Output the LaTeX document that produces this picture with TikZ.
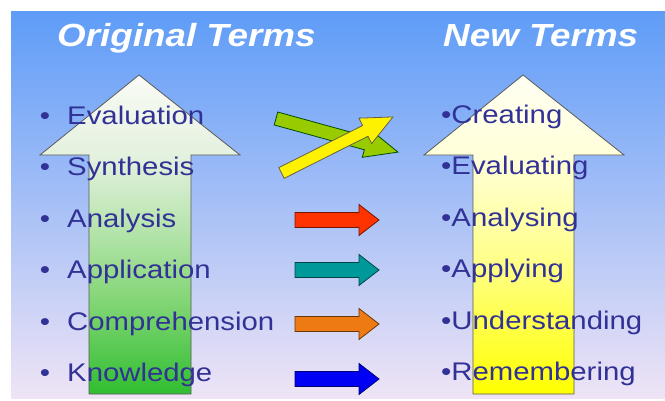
\documentclass[tikz,border=0pt]{standalone}
\usepackage{fontspec}
\setmainfont{Liberation Sans}
\definecolor{txt}{HTML}{313196}
\definecolor{bgtop}{HTML}{5E9CF7}
\definecolor{bgmid}{HTML}{A2C4F1}
\definecolor{bgbot}{HTML}{EFE4F6}
\definecolor{lime}{HTML}{99CC00}
\definecolor{redar}{HTML}{FF3300}
\definecolor{tealar}{HTML}{009999}
\definecolor{orangear}{HTML}{EE7A14}
\definecolor{bluear}{HTML}{0000F5}
\pgfdeclareverticalshading{greenarrow}{100bp}{rgb(0bp)=(0.19,0.745,0.19); rgb(25bp)=(0.19,0.745,0.19); rgb(40bp)=(0.52,0.84,0.47); rgb(50bp)=(0.70,0.89,0.66); rgb(62bp)=(0.89,0.945,0.87); rgb(75bp)=(0.98,0.985,0.96); rgb(100bp)=(0.98,0.985,0.96)}
\pgfdeclareverticalshading{yellowarrow}{100bp}{rgb(0bp)=(1,1,0); rgb(25bp)=(1,1,0); rgb(45bp)=(1,1,0.52); rgb(62bp)=(1,1,0.85); rgb(75bp)=(1,1,0.955); rgb(100bp)=(1,1,0.955)}
\newcommand\blockarrowpath[4]{(0,#2) -- ({#1-#4},#2) -- ({#1-#4},#3) -- (#1,0) -- ({#1-#4},-#3) -- ({#1-#4},-#2) -- (0,-#2) -- cycle}
\tikzset{
  title/.style={font=\fontsize{32}{36}\selectfont\bfseries\itshape, text=white, anchor=base west, inner sep=0pt, xscale=1.15},
  item/.style={font=\fontsize{25.5}{30}\selectfont, text=txt, anchor=base west, inner sep=0pt, xscale=1.15},
  dot/.style={font=\fontsize{25.5}{30}\selectfont, text=txt, anchor=base, inner sep=0pt, xscale=1.15},
  bigarrow/.style={draw=black!65, line width=0.8pt, line join=miter},
  smallarrow/.style={line width=0.8pt, line join=miter}
}
\begin{document}
\begin{tikzpicture}[x=1pt,y=-1pt]
\useasboundingbox (0,0) rectangle (665,400);
\fill[white] (0,0) rectangle (665,400);
\shade[top color=bgtop, middle color=bgmid, bottom color=bgbot] (11,11) rectangle (665,398);
% big arrows
\draw[bigarrow, shading=greenarrow]
  (139,75) -- (240,155) -- (191,155) -- (191,394) -- (89,394) -- (89,155) -- (40,155) -- cycle;
\draw[bigarrow, shading=yellowarrow]
  (523,75) -- (624,155) -- (574,155) -- (574,394) -- (473,394) -- (473,155) -- (424,155) -- cycle;
% crossing arrows
\begin{scope}[shift={(276,118.5)}, rotate=-15.4]
  \draw[smallarrow, fill=lime, draw=black!70!green] \blockarrowpath{126.5}{6.7}{14.5}{33};
\end{scope}
\begin{scope}[shift={(281.5,173)}, rotate=26.7]
  \draw[smallarrow, fill=yellow, draw=black!70!yellow] \blockarrowpath{124.8}{6}{14.2}{31};
\end{scope}
% horizontal arrows
\begin{scope}[shift={(295,220)}]
  \draw[smallarrow, fill=redar, draw=redar!45!black] \blockarrowpath{84}{7.5}{15.5}{20};
\end{scope}
\begin{scope}[shift={(295,270)}]
  \draw[smallarrow, fill=tealar, draw=tealar!45!black] \blockarrowpath{84}{7.5}{15.5}{20};
\end{scope}
\begin{scope}[shift={(295,324)}]
  \draw[smallarrow, fill=orangear, draw=orangear!45!black] \blockarrowpath{84}{7.5}{15.5}{20};
\end{scope}
\begin{scope}[shift={(295,379)}]
  \draw[smallarrow, fill=bluear, draw=bluear!45!black] \blockarrowpath{84}{7.5}{15.5}{20};
\end{scope}
% titles
\node[title] (t1) at (57,46) {Original Terms};
\node[title] (t2) at (443,46) {New Terms};
% left items
\node[dot] (b1) at (45,124) {•};
\node[item] (l1) at (67,124) {Evaluation};
\node[dot] (b2) at (45,175.5) {•};
\node[item] (l2) at (67,175.5) {Synthesis};
\node[dot] (b3) at (45,227) {•};
\node[item] (l3) at (67,227) {Analysis};
\node[dot] (b4) at (45,278.5) {•};
\node[item] (l4) at (67,278.5) {Application};
\node[dot] (b5) at (45,330) {•};
\node[item] (l5) at (67,330) {Comprehension};
\node[dot] (b6) at (45,381.5) {•};
\node[item] (l6) at (67,381.5) {Knowledge};
% right items
\node[item] (r1) at (441,123) {•Creating};
\node[item] (r2) at (441,174.5) {•Evaluating};
\node[item] (r3) at (441,226) {•Analysing};
\node[item] (r4) at (441,277.5) {•Applying};
\node[item] (r5) at (441,329) {•Understanding};
\node[item] (r6) at (441,380.5) {•Remembering};
\end{tikzpicture}
\end{document}
